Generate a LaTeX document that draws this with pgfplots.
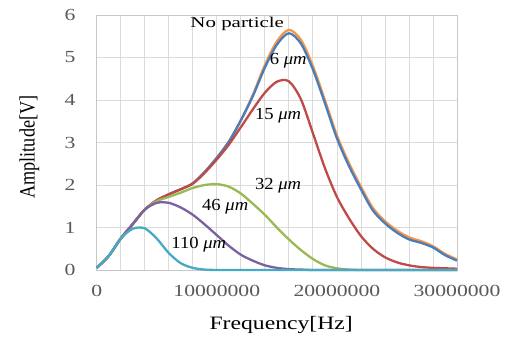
\documentclass[border=0pt]{standalone}
\usepackage{fontspec}
\setmainfont{Liberation Serif}
\newfontfamily\tickfont{Liberation Serif}[FakeStretch=1.28]
\newfontfamily\ylabfont{Liberation Serif}[FakeStretch=0.83]
\newfontfamily\xlabfont{Liberation Serif}[FakeStretch=1.25]
\newfontfamily\annfont{Liberation Serif}[FakeStretch=1.1]
\newfontfamily\npfont{Liberation Serif}[FakeStretch=1.4]
\usepackage{pgfplots}
\usepackage{pgfplotstable}
\pgfplotsset{compat=1.18}
\definecolor{cNP}{HTML}{F79646}
\definecolor{cSix}{HTML}{4A7EBB}
\definecolor{cFif}{HTML}{BE4B48}
\definecolor{cThi}{HTML}{98B954}
\definecolor{cFor}{HTML}{7D60A0}
\definecolor{cHun}{HTML}{46AAC5}
\definecolor{tickgray}{HTML}{595959}
\pgfplotstableread{
f np six fif thi fou hun
0 0.05 0.05 0.05 0.05 0.05 0.05
1000000 0.33 0.33 0.33 0.33 0.33 0.33
2000000 0.74 0.74 0.74 0.74 0.74 0.74
3000000 1.08 1.08 1.08 1.08 1.08 0.97
4000000 1.42 1.42 1.42 1.42 1.42 0.98
5000000 1.64 1.64 1.64 1.62 1.58 0.74
6000000 1.78 1.78 1.78 1.72 1.58 0.40
7000000 1.90 1.90 1.90 1.82 1.47 0.16
8000000 2.04 2.04 2.03 1.93 1.30 0.05
9000000 2.31 2.31 2.29 2.00 1.07 0.01
10000000 2.64 2.64 2.60 2.02 0.82 0
11000000 3.02 3.02 2.95 1.96 0.57 0
12000000 3.52 3.52 3.36 1.80 0.36 0
13000000 4.12 4.09 3.78 1.56 0.22 0
14000000 4.82 4.76 4.17 1.30 0.11 0
15000000 5.38 5.30 4.43 1.00 0.05 0
16000000 5.65 5.57 4.44 0.72 0.02 0
17000000 5.42 5.33 4.02 0.47 0.01 0
18000000 4.80 4.72 3.22 0.26 0 0
19000000 4.00 3.93 2.40 0.11 0 0
20000000 3.17 3.10 1.72 0.04 0 0
21000000 2.52 2.45 1.22 0.01 0 0
22000000 1.96 1.90 0.80 0 0 0
23000000 1.46 1.40 0.50 0 0 0
24000000 1.15 1.10 0.30 0 0 0
25000000 0.93 0.88 0.18 0 0 0
26000000 0.77 0.72 0.11 0 0 0
27000000 0.68 0.64 0.07 0 0 0
28000000 0.56 0.53 0.05 0 0 0
29000000 0.38 0.35 0.04 0 0 0
30000000 0.25 0.22 0.03 0 0 0
}\data
\begin{document}
\begin{tikzpicture}
\path[use as bounding box] (0,0) rectangle (511bp,338bp);
\begin{axis}[
  at={(96.7bp,68bp)}, anchor=south west,
  scale only axis, width=360.3bp, height=255bp,
  xmin=0, xmax=30000000, ymin=0, ymax=6,
  clip=false,
  scaled x ticks=false,
  xtick={0,10000000,20000000,30000000},
  xticklabels={0,10000000,20000000,30000000},
  minor xtick={2000000,4000000,6000000,8000000,12000000,14000000,16000000,18000000,22000000,24000000,26000000,28000000},
  ytick={0,1,2,3,4,5,6},
  yticklabels={0,1,2,3,4,5,6},
  xmajorgrids, xminorgrids, ymajorgrids,
  major grid style={gray!28, line width=0.8bp},
  minor grid style={gray!28, line width=0.8bp},
  axis line style={gray!45, line width=0.8bp},
  major tick length=0pt, minor tick length=0pt,
  tick label style={font=\tickfont\fontsize{17}{17}\selectfont, text=tickgray},
  yticklabel style={inner sep=0pt, xshift=-21bp},
  xticklabel style={inner sep=0pt, yshift=-15bp},
  xlabel={Frequency[Hz]},
  xlabel style={font=\xlabfont\fontsize{19}{19}\selectfont, anchor=base, at={(axis description cs:0.512,0)}, yshift=-59bp},
  ylabel={Amplitude[V]},
  ylabel style={font=\ylabfont\fontsize{22}{22}\selectfont, anchor=base, at={(axis description cs:-0.172,0.482)}},
  every axis plot/.append style={line width=2.3bp, smooth},
]
\addplot[cNP] table[x=f, y=np] {\data};
\addplot[cSix] table[x=f, y=six] {\data};
\addplot[cFif] table[x=f, y=fif] {\data};
\addplot[cThi] table[x=f, y=thi] {\data};
\addplot[cFor] table[x=f, y=fou] {\data};
\addplot[cHun] table[x=f, y=hun] {\data};
\node[font=\npfont\fontsize{15}{15}\selectfont] at (axis cs:11700000,5.79) {No particle};
\node[font=\annfont\fontsize{17}{17}\selectfont] at (axis cs:15950000,4.92) {6 {\itshape μm}};
\node[font=\annfont\fontsize{17}{17}\selectfont] at (axis cs:15100000,3.62) {15 {\itshape μm}};
\node[font=\annfont\fontsize{17}{17}\selectfont] at (axis cs:15100000,1.98) {32 {\itshape μm}};
\node[font=\annfont\fontsize{17}{17}\selectfont] at (axis cs:10700000,1.48) {46 {\itshape μm}};
\node[font=\annfont\fontsize{17}{17}\selectfont] at (axis cs:8500000,0.60) {110 {\itshape μm}};
\end{axis}
\end{tikzpicture}
\end{document}
